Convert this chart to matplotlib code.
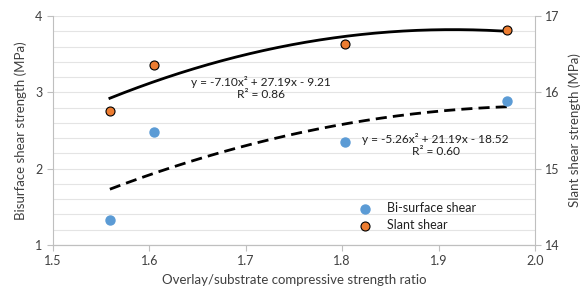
import numpy as np
import matplotlib.pyplot as plt

plt.rcParams['font.family'] = ['Lato', 'DejaVu Sans']

# data
ratio = [1.559, 1.605, 1.803, 1.971]
bisurface = [1.33, 2.48, 2.35, 2.88]
slant = [15.75, 16.36, 16.63, 16.82]

# trendline coefficients as printed on the chart
bi_coef = [-5.26, 21.19, -18.52]
slant_coef = [-7.10, 27.19, -9.21]

blue = '#5B9BD5'
orange = '#ED7D31'
grey = '#BFBFBF'


def main():
    fig = plt.figure(figsize=(5.87, 2.95), dpi=100)
    ax = fig.add_axes([0.0903, 0.1695, 0.8211, 0.7763])
    ax2 = ax.twinx()

    # horizontal gridlines every 0.2 on the left scale
    for g in np.arange(1.0, 4.01, 0.2):
        ax.axhline(g, color='#E4E4E4', lw=0.8, zorder=0)

    xs = np.linspace(min(ratio), max(ratio), 200)
    ax.plot(xs, np.polyval(bi_coef, xs), color='black', lw=2,
            dashes=(4, 2.2), zorder=2)
    ax2.plot(xs, np.polyval(slant_coef, xs), color='black', lw=2, zorder=2)

    ax.scatter(ratio, bisurface, s=42, color=blue, zorder=3, label='Bi-surface shear')
    ax2.scatter(ratio, slant, s=42, color=orange, edgecolor='black',
                linewidth=0.8, zorder=3, label='Slant shear')

    ax.set_xlim(1.5, 2.0)
    ax.set_ylim(1, 4)
    ax2.set_ylim(14, 17)
    ax.set_xticks([1.5, 1.6, 1.7, 1.8, 1.9, 2.0])
    ax.set_xticklabels(['1.5', '1.6', '1.7', '1.8', '1.9', '2.0'])
    ax.set_yticks([1, 2, 3, 4])
    ax2.set_yticks([14, 15, 16, 17])

    for a in (ax, ax2):
        a.spines['top'].set_visible(False)
        for s in ('left', 'right', 'bottom'):
            a.spines[s].set_color(grey)
        a.tick_params(colors='#404040', labelsize=9, length=4, color=grey)
    ax.spines['right'].set_visible(False)
    ax2.spines['left'].set_visible(False)

    ax.set_xlabel('Overlay/substrate compressive strength ratio', fontsize=9.5,
                  color='#404040', labelpad=5)
    ax.set_ylabel('Bisurface shear strength (MPa)', fontsize=9.5, color='#404040',
                  labelpad=6)
    ax2.set_ylabel('Slant shear strength (MPa)', fontsize=9.5, color='#404040',
                   labelpad=6)

    ax.text(1.716, 3.06, 'y = -7.10x² + 27.19x - 9.21\nR² = 0.86',
            ha='center', va='center', fontsize=8.6, color='#202020',
            linespacing=1.15)
    ax.text(1.897, 2.31, 'y = -5.26x² + 21.19x - 18.52\nR² = 0.60',
            ha='center', va='center', fontsize=8.6, color='#202020',
            linespacing=1.15)

    h1, l1 = ax.get_legend_handles_labels()
    h2, l2 = ax2.get_legend_handles_labels()
    ax2.legend(h1 + h2, l1 + l2, loc='lower left', bbox_to_anchor=(0.598, 0.012),
               frameon=False, fontsize=9, handletextpad=0.8, labelspacing=0.4,
               labelcolor='#202020')

    fig.savefig('out.png', dpi=100)


if __name__ == '__main__':
    main()
